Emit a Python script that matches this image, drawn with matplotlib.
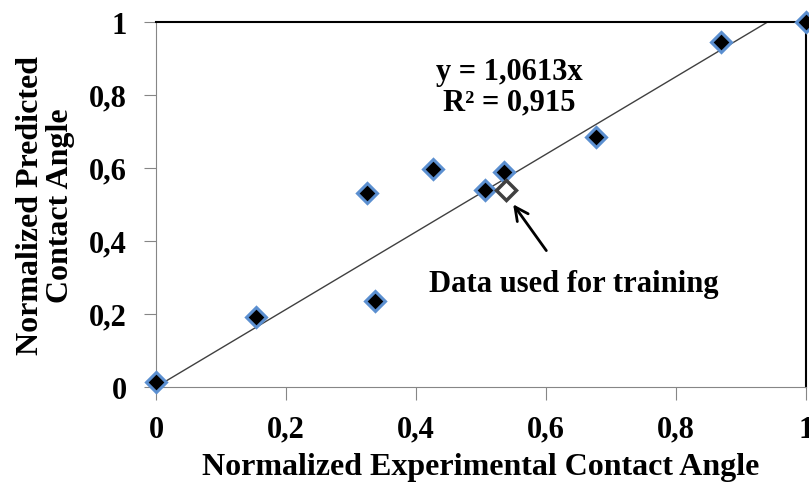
import matplotlib.pyplot as plt
import numpy as np

plt.rcParams['font.family'] = ['Liberation Serif', 'DejaVu Serif']
plt.rcParams['font.weight'] = 'bold'

# data
exp_angle = [0.0, 0.154, 0.325, 0.337, 0.426, 0.506, 0.535, 0.677, 0.869, 1.0]
pred_angle = [0.014, 0.191, 0.531, 0.236, 0.596, 0.539, 0.589, 0.683, 0.945, 1.0]
train_x = [0.538]
train_y = [0.540]
slope = 1.0613
r2 = 0.915

ticks = [0, 0.2, 0.4, 0.6, 0.8, 1]
tick_labels = ['0', '0,2', '0,4', '0,6', '0,8', '1']

fig = plt.figure(figsize=(8.09, 4.89), dpi=100)
ax = fig.add_axes([156/809, 1-388/489, (806-156)/809, (388-22.5)/489])

# trendline y = slope * x, stops where it leaves the box
xl = np.array([0, 1/slope])
ax.plot(xl, slope*xl, color='#404040', lw=1.0, zorder=2)

ax.plot(exp_angle, pred_angle, 'D', ms=10, mfc='black', mec='#5b8fd0', mew=2.2,
        clip_on=False, zorder=3)
ax.plot(train_x, train_y, 'D', ms=10, mfc='white', mec='#404040', mew=2.5,
        clip_on=False, zorder=4)

ax.text(0.543, 0.822, 'y = 1,0613x\nR² = 0,915', ha='center', va='center',
        fontsize=22, fontweight='bold', linespacing=1.05)

ax.annotate('', xy=(0.547, 0.506), xytext=(0.603, 0.367),
            arrowprops=dict(arrowstyle='->', lw=2, color='black', mutation_scale=24))
ax.text(0.642, 0.282, 'Data used for training', ha='center', va='center',
        fontsize=22, fontweight='bold')

ax.set_xlim(0, 1)
ax.set_ylim(0, 1)
ax.set_xticks(ticks)
ax.set_xticklabels(tick_labels)
ax.set_yticks(ticks)
ax.set_yticklabels(tick_labels)
ax.tick_params(direction='out', length=9, color='#868686', labelsize=22)
ax.tick_params(axis='x', pad=11)
ax.tick_params(axis='y', pad=12)

for s in ['left', 'bottom']:
    ax.spines[s].set_color('#868686')
for s in ['top', 'right']:
    ax.spines[s].set_color('black')
    ax.spines[s].set_linewidth(1.5)

ax.set_xlabel('Normalized Experimental Contact Angle', fontsize=23, fontweight='bold', labelpad=6)
ax.set_ylabel('Normalized Predicted\nContact Angle', fontsize=23, fontweight='bold',
              labelpad=10, linespacing=1.05)

fig.savefig('out.png', dpi=100)
